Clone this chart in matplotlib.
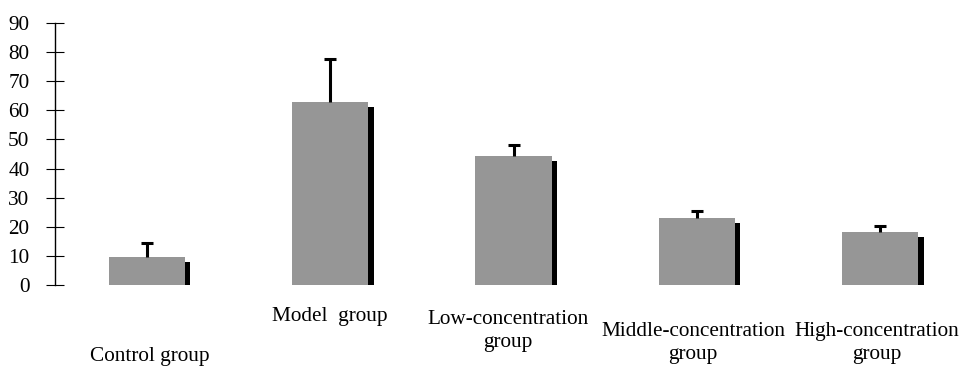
import matplotlib
matplotlib.use("Agg")
import matplotlib.pyplot as plt
import matplotlib.transforms as mtransforms
import numpy as np

categories = ["Control group", "Model  group", "Low-concentration\ngroup",
              "Middle-concentration\ngroup", "High-concentration\ngroup"]
means = [9.6, 62.9, 44.2, 23.0, 18.2]
errors = [4.8, 14.9, 3.9, 2.4, 2.1]
yticks = [0, 10, 20, 30, 40, 50, 60, 70, 80, 90]

plt.rcParams['font.family'] = ['Liberation Serif', 'DejaVu Serif']
plt.rcParams['font.size'] = 15.3

fig = plt.figure(figsize=(9.74, 3.71), dpi=100)
ax = fig.add_axes([55/974, 1-285/371, (972-55)/974, (285-23)/371])

x = np.arange(len(categories))
width = 0.415

# shadow bars (offset right and down)
shadow_tr = ax.transData + mtransforms.ScaledTranslation(5.5/100, -5/100, fig.dpi_scale_trans)
sh = ax.bar(x, means, width=width, color='black', zorder=1)
for p in sh:
    p.set_transform(shadow_tr)
    p.set_clip_on(True)
    p.set_clip_box(ax.bbox)

ax.bar(x, means, width=width, color='#969696', zorder=2)
eb = ax.errorbar(x, means, yerr=[np.zeros(len(means)), errors], fmt='none',
                 ecolor='black', elinewidth=2.2, capsize=4.5, capthick=2.2, zorder=3)
# hide lower caps (only upper error shown)
caps = eb[1]
if len(caps) >= 2:
    caps[0].set_visible(False)

ax.set_xlim(-0.5, 4.5)
ax.set_ylim(0, 90)
ax.set_yticks(yticks)
ax.tick_params(axis='y', direction='inout', length=13, width=0.8, pad=12)
ax.set_xticks([])
for s in ['top', 'right', 'bottom']:
    ax.spines[s].set_visible(False)
ax.spines['left'].set_linewidth(1)

# staggered category labels (pixel y centers from figure top)
label_x = [150, 330, 508, 693, 877]
label_y = [356, 316, 331, 343, 343]
for lx, ly, lab in zip(label_x, label_y, categories):
    fig.text(lx/974, 1-ly/371, lab, ha='center', va='center',
             multialignment='center', linespacing=1.25)

fig.savefig("out.png", dpi=100)
